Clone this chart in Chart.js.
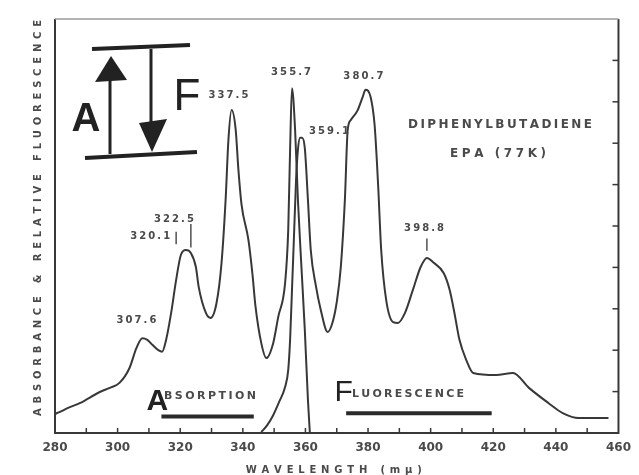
<!DOCTYPE html>
<html>
<head>
<meta charset="utf-8">
<script src="https://cdn.jsdelivr.net/npm/chart.js@4/dist/chart.umd.min.js"></script>
<style>
  html, body { margin: 0; padding: 0; background: #fff; }
  canvas { display: block; filter: blur(0.3px); }
</style>
</head>
<body>
<canvas id="chart" width="639" height="475"></canvas>
<script>
// wavelength in m\u03bc, relative intensity 0..100
const absWavelength = [280.0, 281.6, 284.0, 287.9, 294.3, 297.5, 300.6, 303.8, 306.0, 307.9, 309.5, 311.1, 313.0, 314.2, 315.5, 317.1, 318.7, 320.2, 321.8, 323.4, 325.0, 325.9, 328.2, 329.7, 331.6, 333.2, 334.5, 335.4, 336.4, 337.7, 338.6, 339.6, 341.8, 343.1, 344.0, 345.9, 347.5, 349.7, 351.3, 353.5, 354.5, 355.1, 355.7, 356.7, 357.6, 358.6, 359.8, 360.8, 361.4]
const absValue = [4.6, 5.1, 6.0, 7.2, 9.9, 10.9, 12.1, 15.7, 20.5, 22.9, 22.5, 21.3, 20.0, 19.6, 22.5, 29.0, 37.0, 43.0, 44.2, 43.5, 40.1, 35.3, 29.0, 27.8, 31.4, 41.1, 56.3, 70.8, 78.0, 73.4, 63.5, 55.1, 46.6, 38.2, 30.9, 21.7, 18.1, 21.7, 28.0, 36.2, 49.0, 68.4, 83.3, 73.2, 56.3, 41.8, 24.9, 8.0, 0.2]

const fluWavelength = [345.9, 347.8, 349.7, 351.6, 353.5, 354.5, 355.1, 355.7, 356.3, 357.0, 357.6, 358.3, 358.9, 359.8, 360.8, 361.7, 363.3, 364.9, 367.1, 368.7, 370.1, 371.3, 372.6, 373.5, 374.5, 376.7, 378.3, 379.2, 380.8, 382.1, 382.8, 383.3, 384.2, 385.8, 388.0, 389.6, 391.8, 394.3, 396.8, 398.8, 401.0, 404.2, 406.1, 407.6, 409.2, 411.4, 413.6, 420.9, 426.3, 431.4, 437.7, 442.2, 447.3, 456.8]
const fluValue = [0.2, 1.9, 4.3, 7.5, 11.1, 15.2, 22.5, 34.5, 46.6, 61.1, 68.4, 71.3, 71.3, 68.8, 56.3, 44.2, 35.7, 29.7, 24.4, 26.8, 32.1, 40.1, 56.3, 73.2, 75.6, 78.0, 81.2, 82.9, 81.2, 74.4, 65.9, 58.7, 44.2, 32.1, 26.8, 26.6, 29.0, 34.5, 40.1, 42.3, 41.1, 38.6, 34.5, 29.0, 22.5, 17.6, 14.5, 14.0, 14.5, 10.9, 7.2, 4.8, 3.6, 3.6]

const peakText = ['307.6', '320.1', '322.5', '337.5', '355.7', '359.1', '380.7', '398.8']
const peakNm = [306.0, 310.4, 318.0, 335.4, 355.4, 367.5, 378.5, 397.9]
const peakLevel = [27.3, 47.6, 51.7, 81.6, 87.2, 72.9, 86.2, 49.5]

const INK = '#383838'
const TEXT = '#4a4a4a'

// draw text with letters spread to fill a given width
function spaced(ctx, text, cx, cy, width) {
  const chars = [...text]
  const ws = chars.map(c => ctx.measureText(c).width)
  const total = ws.reduce((a, b) => a + b, 0)
  const gap = chars.length > 1 ? (width - total) / (chars.length - 1) : 0
  let x = cx - width / 2
  ctx.textAlign = 'left'
  ctx.textBaseline = 'middle'
  chars.forEach((c, i) => {
    ctx.fillText(c, x, cy)
    x += ws[i] + gap
  })
}

function line(ctx, x1, y1, x2, y2, w) {
  ctx.lineWidth = w
  ctx.beginPath()
  ctx.moveTo(x1, y1)
  ctx.lineTo(x2, y2)
  ctx.stroke()
}

const decor = {
  id: 'decor',
  afterDraw(chart) {
    const { ctx, chartArea: a, scales: { x, y } } = chart
    ctx.save()
    ctx.strokeStyle = INK
    ctx.fillStyle = TEXT

    // frame
    line(ctx, a.left, a.top, a.left, a.bottom + 1, 2)
    line(ctx, a.left, a.bottom, a.right, a.bottom, 2)
    line(ctx, a.right, a.top, a.right, a.bottom + 1, 2)
    ctx.strokeStyle = '#9a9a9a'
    line(ctx, a.left, a.top, a.right, a.top, 1.5)
    ctx.strokeStyle = INK

    // inward ticks
    for (let v = 290; v < 460; v += 10) {
      const px = x.getPixelForValue(v)
      line(ctx, px, a.bottom, px, a.bottom - 5, 1.5)
    }
    for (let v = 10; v < 100; v += 10) {
      const py = y.getPixelForValue(v)
      line(ctx, a.right, py, a.right - 6, py, 1.5)
    }

    // peak labels
    ctx.font = 'bold 10px "DejaVu Sans"'
    peakText.forEach((t, i) => {
      spaced(ctx, t, x.getPixelForValue(peakNm[i]), y.getPixelForValue(peakLevel[i]), 40)
    })
    ctx.strokeStyle = '#505050'
    const lead = (nm, v1, v2) => line(ctx, x.getPixelForValue(nm), y.getPixelForValue(v1), x.getPixelForValue(nm), y.getPixelForValue(v2), 1.5)
    lead(318.7, 48.6, 45.6)
    lead(323.4, 50.5, 44.8)
    lead(398.8, 47.0, 44.0)
    ctx.strokeStyle = INK

    // energy level inset
    const L = a.left, T = a.top
    ctx.strokeStyle = '#222'
    ctx.fillStyle = '#222'
    line(ctx, L + 37, T + 30, L + 135, T + 26, 4)
    line(ctx, L + 30, T + 139, L + 142, T + 133, 4)
    line(ctx, L + 55, T + 135, L + 55, T + 50, 3)
    ctx.beginPath()
    ctx.moveTo(L + 56, T + 37); ctx.lineTo(L + 40, T + 63); ctx.lineTo(L + 72, T + 61); ctx.closePath(); ctx.fill()
    line(ctx, L + 96, T + 30, L + 96, T + 115, 3)
    ctx.beginPath()
    ctx.moveTo(L + 97, T + 133); ctx.lineTo(L + 84, T + 104); ctx.lineTo(L + 112, T + 100); ctx.closePath(); ctx.fill()
    ctx.font = 'bold 40px "Liberation Sans"'
    ctx.textAlign = 'center'; ctx.textBaseline = 'alphabetic'
    ctx.fillText('A', L + 31, T + 112)
    ctx.font = '44px "Liberation Sans"'
    ctx.fillText('F', L + 132, T + 91)

    // sample text
    ctx.fillStyle = TEXT
    ctx.font = 'bold 12px "DejaVu Sans"'
    spaced(ctx, 'DIPHENYLBUTADIENE', 500, 125, 184)
    spaced(ctx, 'EPA (77K)', 498, 154, 96)

    // curve names with underline bars
    ctx.fillStyle = '#222'
    ctx.font = 'bold 30px "Liberation Sans"'
    ctx.textAlign = 'left'; ctx.textBaseline = 'alphabetic'
    ctx.fillText('A', x.getPixelForValue(309.2), y.getPixelForValue(5.5))
    ctx.font = '30px "Liberation Sans"'
    ctx.fillText('F', x.getPixelForValue(369.3), y.getPixelForValue(7.8))
    ctx.fillStyle = TEXT
    ctx.font = 'bold 11px "DejaVu Sans"'
    spaced(ctx, 'BSORPTION', (x.getPixelForValue(314.5) + x.getPixelForValue(344.5)) / 2, y.getPixelForValue(9.0), 92)
    spaced(ctx, 'LUORESCENCE', (x.getPixelForValue(375.0) + x.getPixelForValue(410.5)) / 2, y.getPixelForValue(9.4), 112)
    ctx.strokeStyle = '#2a2a2a'
    line(ctx, x.getPixelForValue(314.0), y.getPixelForValue(4.0), x.getPixelForValue(343.5), y.getPixelForValue(4.0), 4)
    line(ctx, x.getPixelForValue(373.0), y.getPixelForValue(4.8), x.getPixelForValue(419.5), y.getPixelForValue(4.8), 4)

    // axis titles
    ctx.fillStyle = TEXT
    ctx.font = 'bold 10px "DejaVu Sans"'
    spaced(ctx, 'WAVELENGTH (m\u03bc)', (a.left + a.right) / 2 - 3, 470, 176)
    ctx.translate(38, (a.top + a.bottom) / 2 - 8)
    ctx.rotate(-Math.PI / 2)
    spaced(ctx, 'ABSORBANCE & RELATIVE FLUORESCENCE', 0, 0, 396)
    ctx.restore()
  }
}

const series = (xs, ys) => xs.map((v, i) => ({ x: v, y: ys[i] }))

new Chart(document.getElementById('chart'), {
  type: 'scatter',
  data: {
    datasets: [
      {
        label: 'Absorption',
        data: series(absWavelength, absValue),
        showLine: true,
        borderColor: INK,
        borderWidth: 2,
        pointRadius: 0,
        cubicInterpolationMode: 'monotone',
      },
      {
        label: 'Fluorescence',
        data: series(fluWavelength, fluValue),
        showLine: true,
        borderColor: INK,
        borderWidth: 2,
        pointRadius: 0,
        cubicInterpolationMode: 'monotone',
      },
    ],
  },
  options: {
    responsive: false,
    animation: false,
    layout: { padding: { top: 19, right: 17, left: 0, bottom: 0 } },
    plugins: { legend: { display: false }, tooltip: { enabled: false } },
    scales: {
      x: {
        type: 'linear',
        min: 280,
        max: 460,
        ticks: { stepSize: 20, padding: 8, color: TEXT, font: { family: 'DejaVu Sans', size: 12, weight: 'bold' } },
        grid: { display: false, drawTicks: false },
        border: { display: false },
        afterFit: s => { s.height = 42 },
      },
      y: {
        min: 0,
        max: 100,
        ticks: { display: false },
        grid: { display: false, drawTicks: false },
        border: { display: false },
        afterFit: s => { s.width = 55 },
      },
    },
  },
  plugins: [decor],
})
</script>
</body>
</html>
